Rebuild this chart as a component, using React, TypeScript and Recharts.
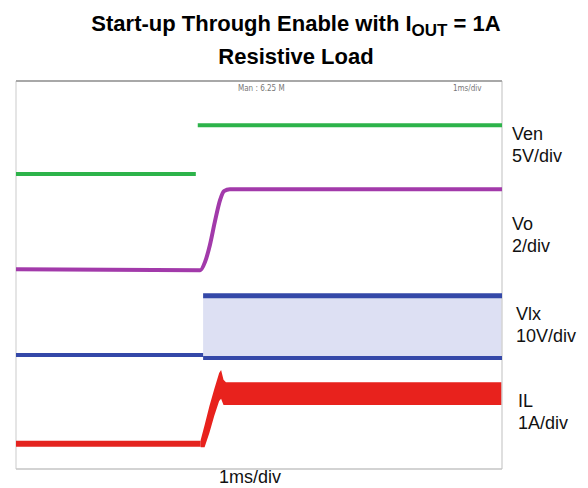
import React from "react";
import { ComposedChart, Line, Area, XAxis, YAxis, ReferenceLine } from "recharts";

// scope trace readings: time in ms (1 ms/div, 10 div), level in divisions (8 div)
const venLowT = [0, 3.7];
const venLowV = [6.08, 6.08];
const venHighT = [3.74, 10];
const venHighV = [7.09, 7.09];

const voT = [0, 3.79, 3.89, 3.99, 4.09, 4.2, 4.28, 4.4, 10];
const voV = [4.12, 4.1, 4.27, 4.62, 5.09, 5.55, 5.73, 5.77, 5.77];

const vlxLowT = [0, 3.85];
const vlxLowV = [2.35, 2.35];
const vlxBandT = [3.85, 10];
const vlxBandLow = [2.29, 2.29];
const vlxBandHigh = [3.57, 3.57];

const ilLowT = [0, 3.8];
const ilLowV = [0.52, 0.52];
const ilBandT = [3.8, 3.88, 3.98, 4.08, 4.18, 4.22, 4.27, 4.32, 10];
const ilBandLow = [0.45, 0.45, 0.75, 1.1, 1.4, 1.45, 1.32, 1.32, 1.32];
const ilBandHigh = [0.6, 0.9, 1.3, 1.65, 1.98, 2.04, 1.84, 1.79, 1.79];

const pts = (ts: number[], vs: number[]) => ts.map((t, i) => ({ t, v: vs[i] }));
const band = (ts: number[], lo: number[], hi: number[]) =>
  ts.map((t, i) => ({ t, r: [lo[i], hi[i]] }));

const font = "'Liberation Sans', Arial, sans-serif";

const labels = [
  { name: "Ven", scale: "5V/div", top: 123, left: 512 },
  { name: "Vo", scale: "2/div", top: 213, left: 512 },
  { name: "Vlx", scale: "10V/div", top: 303, left: 516 },
  { name: "IL", scale: "1A/div", top: 390, left: 518 },
];

export default function App() {
  return (
    <div style={{ position: "absolute", left: 0, top: 0, width: 588, height: 488, background: "#fff", fontFamily: font }}>
      <div style={{ position: "absolute", left: 2, top: 8, width: 588, textAlign: "center", fontWeight: "bold", fontSize: 22, lineHeight: "31px", color: "#000" }}>
        <div>
          Start-up Through Enable with I
          <span style={{ fontSize: 17, position: "relative", top: 5 }}>OUT</span> = 1A
        </div>
        <div>Resistive Load</div>
      </div>
      <ComposedChart width={588} height={488} margin={{ top: 81, left: 16, right: 86, bottom: 19 }}>
        <XAxis type="number" dataKey="t" domain={[0, 10]} hide allowDuplicatedCategory={false} />
        <YAxis type="number" domain={[0, 8]} hide />
        <ReferenceLine x={0} stroke="#dcdcdc" strokeWidth={1.5} />
        <ReferenceLine x={10} stroke="#d4d4d4" strokeWidth={1.5} />
        <ReferenceLine y={0} stroke="#c4c4c4" strokeWidth={1.5} />
        <ReferenceLine y={8} stroke="#a8a8a8" strokeWidth={2} />
        <Area data={band(vlxBandT, vlxBandLow, vlxBandHigh)} dataKey="r" type="linear" fill="#dde0f3" fillOpacity={1} stroke="none" isAnimationActive={false} />
        <Line data={pts(venLowT, venLowV)} dataKey="v" type="linear" stroke="#2db34a" strokeWidth={4} dot={false} isAnimationActive={false} />
        <Line data={pts(venHighT, venHighV)} dataKey="v" type="linear" stroke="#2db34a" strokeWidth={4} dot={false} isAnimationActive={false} />
        <Line data={pts(voT, voV)} dataKey="v" type="monotone" stroke="#a23aaa" strokeWidth={4} dot={false} isAnimationActive={false} />
        <Line data={pts(vlxLowT, vlxLowV)} dataKey="v" type="linear" stroke="#3448a8" strokeWidth={4} dot={false} isAnimationActive={false} />
        <Line data={pts(vlxBandT, vlxBandLow)} dataKey="v" type="linear" stroke="#3448a8" strokeWidth={4} dot={false} isAnimationActive={false} />
        <Line data={pts(vlxBandT, vlxBandHigh)} dataKey="v" type="linear" stroke="#3448a8" strokeWidth={5} dot={false} isAnimationActive={false} />
        <Line data={pts(ilLowT, ilLowV)} dataKey="v" type="linear" stroke="#e4231f" strokeWidth={6} dot={false} isAnimationActive={false} />
        <Area data={band(ilBandT, ilBandLow, ilBandHigh)} dataKey="r" type="linear" fill="#e8221d" fillOpacity={1} stroke="none" isAnimationActive={false} />
      </ComposedChart>
      <div style={{ position: "absolute", left: 238, top: 84, fontSize: 8, color: "#777", fontFamily: "'DejaVu Sans Condensed', sans-serif" }}>Man : 6.25 M</div>
      <div style={{ position: "absolute", left: 453, top: 84, fontSize: 8, color: "#777", fontFamily: "'DejaVu Sans Condensed', sans-serif" }}>1ms/div</div>
      {labels.map((l) => (
        <div key={l.name} style={{ position: "absolute", left: l.left, top: l.top, fontSize: 18, lineHeight: "22px", color: "#111" }}>
          <div>{l.name}</div>
          <div>{l.scale}</div>
        </div>
      ))}
      <div style={{ position: "absolute", left: 219, top: 466, fontSize: 18, lineHeight: "22px", color: "#111" }}>1ms/div</div>
    </div>
  );
}
